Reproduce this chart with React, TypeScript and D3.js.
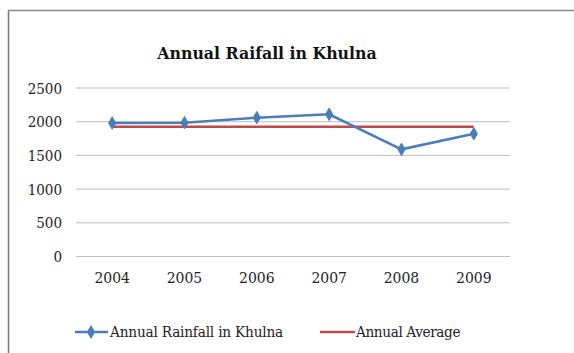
import React from "react";
import * as d3 from "d3";

// Chart data
const years = ["2004", "2005", "2006", "2007", "2008", "2009"];
const rainfall = [1980, 1985, 2060, 2110, 1590, 1820];
const average = [1925, 1925, 1925, 1925, 1925, 1925];
const yTicks = [0, 500, 1000, 1500, 2000, 2500];

const W = 574;
const H = 353;
const FONT = "'DejaVu Serif Condensed', 'DejaVu Serif'";
const BLUE = "#4a7ebb";
const RED = "#be4b48";

export default function App() {
  const x = d3.scalePoint<string>().domain(years).range([76, 510]).padding(0.5);
  const y = d3.scaleLinear().domain([0, 2500]).range([256.5, 88]);

  const line = d3
    .line<number>()
    .x((_, i) => x(years[i]) as number)
    .y((d) => y(d));

  const diamond = d3.symbol().type(d3.symbolDiamond).size(45)() as string;

  return (
    <div style={{ position: "fixed", left: 0, top: 0 }}>
      <svg width={W} height={H} style={{ display: "block", background: "#fff", fontStretch: "condensed" }}>
        {/* chart frame */}
        <line x1={8.5} y1={10.5} x2={8.5} y2={H} stroke="#777" strokeWidth={1.5} />
        <line x1={8} y1={10.5} x2={W} y2={10.5} stroke="#888" strokeWidth={1.5} />

        <text x={267} y={59} textAnchor="middle" fontFamily={FONT} fontWeight="bold" fontSize={17.5} fill="#111">
          Annual Raifall in Khulna
        </text>

        {/* gridlines and y labels */}
        {yTicks.map((t) => (
          <g key={t}>
            <line x1={76} x2={510} y1={y(t)} y2={y(t)} stroke="#bdbdbd" strokeWidth={1} />
            <text x={62} y={y(t) + 5.5} textAnchor="end" fontFamily={FONT} fontSize={15} fill="#222">
              {t}
            </text>
          </g>
        ))}

        {/* x labels */}
        {years.map((yr) => (
          <text key={yr} x={x(yr)} y={283} textAnchor="middle" fontFamily={FONT} fontSize={15.5} fill="#222">
            {yr}
          </text>
        ))}

        {/* series */}
        <path d={line(average) as string} fill="none" stroke={RED} strokeWidth={2.5} />
        <path d={line(rainfall) as string} fill="none" stroke={BLUE} strokeWidth={2.5} />
        {rainfall.map((v, i) => (
          <path key={i} d={diamond} transform={`translate(${x(years[i])},${y(v)})`} fill={BLUE} stroke={BLUE} />
        ))}

        {/* legend */}
        <line x1={75} x2={108} y1={332} y2={332} stroke={BLUE} strokeWidth={2.5} />
        <path d={diamond} transform="translate(91,332)" fill={BLUE} stroke={BLUE} />
        <text x={110} y={337} fontFamily={FONT} fontSize={15.2} fill="#222" letterSpacing={-0.2}>
          Annual Rainfall in Khulna
        </text>
        <line x1={320} x2={355} y1={332} y2={332} stroke={RED} strokeWidth={2.5} />
        <text x={356} y={337} fontFamily={FONT} fontSize={15.2} fill="#222" letterSpacing={-0.4}>
          Annual Average
        </text>
      </svg>
    </div>
  );
}
